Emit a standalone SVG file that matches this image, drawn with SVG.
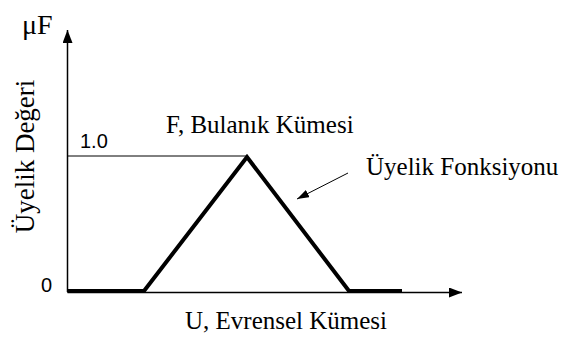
<svg xmlns="http://www.w3.org/2000/svg" width="563" height="338" viewBox="0 0 563 338">
<style>
.serif{font-family:"Liberation Serif","Times New Roman",serif;font-size:25px;fill:#000}
.sans{font-family:"Liberation Sans",Arial,sans-serif;font-size:20px;fill:#000}
.axis{stroke:#000;stroke-width:1.5;fill:none}
.thin{stroke:#000;stroke-width:1;fill:none}
.mf{stroke:#000;stroke-width:4;fill:none;stroke-linejoin:miter}
</style>
<defs>
<marker id="ah" markerWidth="13" markerHeight="10" refX="13" refY="5" orient="auto" markerUnits="userSpaceOnUse">
<path d="M0,0 L13,5 L0,10 Z" fill="#000"/>
</marker>
<marker id="ah2" markerWidth="12" markerHeight="8" refX="12" refY="4" orient="auto" markerUnits="userSpaceOnUse">
<path d="M0,0 L12,4 L0,8 Z" fill="#000"/>
</marker>
</defs>
<g id="connectors">
<line class="axis" x1="67.5" y1="292" x2="67.5" y2="30" marker-end="url(#ah)"/>
<line class="axis" x1="67.5" y1="292.5" x2="462" y2="292.5" marker-end="url(#ah)"/>
<line class="thin" x1="67.5" y1="156" x2="247" y2="156"/>
<polyline class="mf" points="67.5,291 144,291 247,157 349,291 402,291"/>
<line class="thin" x1="348" y1="173" x2="297" y2="199" stroke-width="1.3" marker-end="url(#ah2)"/>
</g>
<g id="labels">
<text class="serif" x="22" y="34" style="font-size:28px">μF</text>
<text class="serif" transform="translate(34,156.5) rotate(-90)" text-anchor="middle" style="font-size:27px">Üyelik Değeri</text>
<text class="sans" x="80" y="148">1.0</text>
<text class="sans" x="41" y="292">0</text>
<text class="serif" x="166" y="133">F, Bulanık Kümesi</text>
<text class="serif" x="366" y="175">Üyelik Fonksiyonu</text>
<text class="serif" x="185" y="329">U, Evrensel Kümesi</text>
</g>
</svg>
